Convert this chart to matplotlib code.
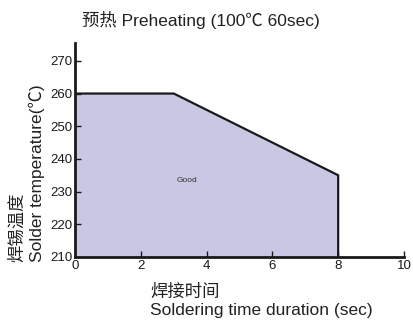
import matplotlib
matplotlib.use("Agg")
import matplotlib.pyplot as plt

plt.rcParams["font.family"] = ["Liberation Sans", "Noto Sans CJK SC", "DejaVu Sans"]

# soldering window outline: time (sec) vs. solder temperature (degC)
time_sec = [0, 3, 8, 8]
temp_c = [260, 260, 235, 210]
x_ticks = [0, 2, 4, 6, 8, 10]
y_ticks = [210, 220, 230, 240, 250, 260, 270]

fig = plt.figure(figsize=(4.13, 3.2), dpi=100)
ax = fig.add_axes([0.182, 0.197, 0.796, 0.669])

fill_x = time_sec + [0]
fill_y = temp_c + [210]
ax.fill(fill_x, fill_y, color="#c8c8e4", lw=0)
ax.plot(time_sec, temp_c, color="#1a1a1a", lw=1.6, solid_joinstyle="miter")
ax.text(3.4, 233.5, "Good", fontsize=6, color="#333333", ha="center", va="center")

ax.set_xlim(0, 10)
ax.set_ylim(210, 275.5)
ax.set_xticks(x_ticks)
ax.set_yticks(y_ticks)
ax.tick_params(direction="in", length=4, width=1, labelsize=9.5, pad=2, colors="#1a1a1a")
for side in ("top", "right"):
    ax.spines[side].set_visible(False)
for side in ("left", "bottom"):
    ax.spines[side].set_linewidth(2)
    ax.spines[side].set_color("#1a1a1a")

fig.text(0.486, 0.937, "预热 Preheating (100℃ 60sec)", fontsize=12.5, ha="center", va="center", color="#222222")
fig.text(0.363, 0.089, "焊接时间", fontsize=12.5, ha="left", va="center", color="#222222")
fig.text(0.363, 0.031, "Soldering time duration (sec)", fontsize=12.5, ha="left", va="center", color="#222222")
fig.text(0.042, 0.181, "焊锡温度", fontsize=12.5, rotation=90, ha="center", va="bottom", color="#222222")
fig.text(0.088, 0.181, "Solder temperature(℃)", fontsize=12.5, rotation=90, ha="center", va="bottom", color="#222222")

fig.savefig("out.png", dpi=100)
